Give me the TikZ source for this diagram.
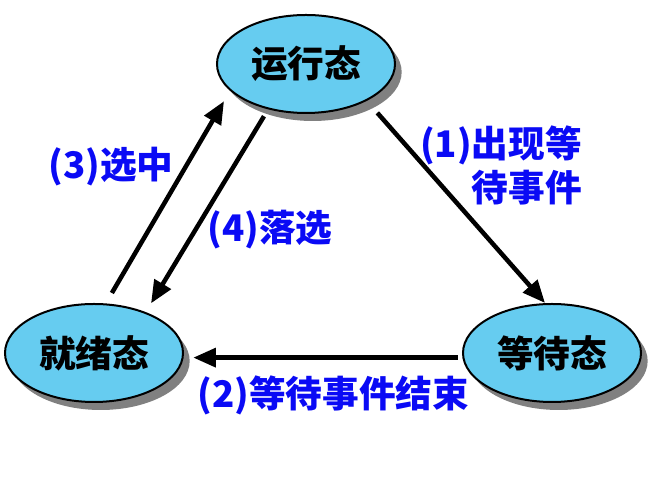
\documentclass[tikz,border=0pt]{standalone}
\usepackage{fontspec}
\setmainfont{Noto Sans CJK SC}
\usetikzlibrary{arrows.meta,shapes.geometric,shadows}
\definecolor{estatblau}{RGB}{102,204,240}
\definecolor{etiqblau}{RGB}{10,10,245}
\tikzset{
  estatnode/.style={ellipse, draw=black, line width=1.5pt, fill=estatblau,
    minimum width=133.5pt, minimum height=73.5pt, inner sep=0pt, outer sep=0pt,
    font=\fontsize{27.5}{32}\selectfont\bfseries,
    drop shadow={shadow xshift=5pt, shadow yshift=-6pt, fill=black!50, opacity=1}},
  fletxa/.style={line width=3.4pt, -{Triangle[length=17pt,width=14pt]}},
  etiqueta/.style={text=etiqblau, font=\fontsize{27.5}{33}\selectfont\bfseries, inner sep=0pt}
}

\begin{document}
\begin{tikzpicture}[x=0.75pt,y=0.75pt]
  \useasboundingbox (0,0) rectangle (654,502);
  % Estats
  \node[estatnode] (run) at (306,438) {运行态};
  \node[estatnode] (ready) at (94,149) {就绪态};
  \node[estatnode] (wait) at (552,149) {等待态};
  % Transicions entre estats
  \draw[fletxa, shorten <=12.7pt, shorten >=1.1pt] (run.-31.3) -- (wait.97);
  \draw[fletxa, shorten <=4.3pt, shorten >=8pt] (wait.183.9) -- (ready.-3.9);
  \draw[fletxa, shorten <=9.9pt, shorten >=9.7pt] (ready.77) -- (run.199.9);
  \draw[fletxa, shorten <=6.8pt, shorten >=8.4pt] (run.-130.9) -- (ready.38.9);
  % Etiquetes de les transicions
  \node[etiqueta, align=right, anchor=east] (lab1) at (582,337) {(1)出现等\\待事件};
  \node[etiqueta] (lab2) at (333.5,107) {(2)等待事件结束};
  \node[etiqueta] (lab3) at (111,335) {(3)选中};
  \node[etiqueta] (lab4) at (270,272) {(4)落选};
\end{tikzpicture}
\end{document}
